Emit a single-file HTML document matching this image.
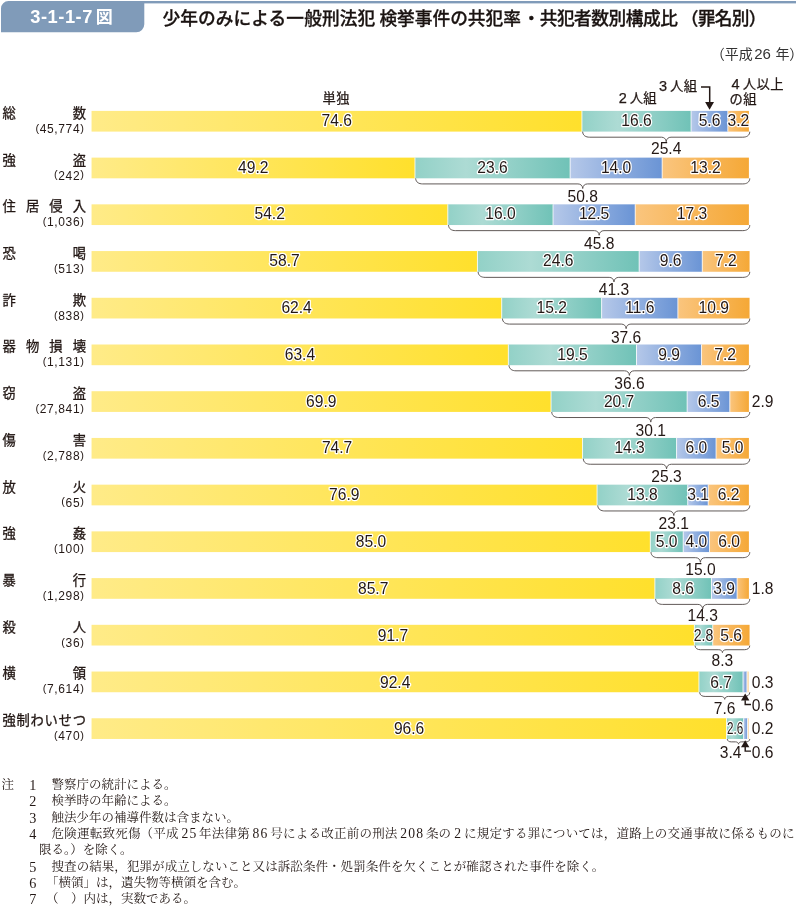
<!DOCTYPE html>
<html lang="ja"><head><meta charset="utf-8"><title>3-1-1-7図</title>
<style>
html,body{margin:0;padding:0;background:#fff;}
#page{position:relative;width:796px;height:907px;overflow:hidden;background:#fff;}
svg{position:absolute;left:0;top:0;}
svg text{font-family:"Liberation Sans", "Noto Sans CJK JP", sans-serif;fill:#231815;}
.num{font-size:15.6px;text-anchor:middle;}
.halo{stroke:#fff;stroke-width:2.5px;stroke-linejoin:round;paint-order:stroke fill;}
.lab{font-size:13.3px;stroke:#231815;stroke-width:0.3px;}
.pr{font-size:11px;}
.leg{font-size:13.3px;letter-spacing:0.4px;stroke:#231815;stroke-width:0.25px;}
.cnt{font-size:12px;text-anchor:end;letter-spacing:0.62px;}
.fn{position:absolute;white-space:nowrap;font-family:"Liberation Serif", "Noto Serif CJK JP", "Noto Serif CJK SC", serif;font-size:12.5px;line-height:16px;color:#231815;}
.fn .d{font-size:13.6px;margin:0 1.7px 0 2.6px;line-height:1px;letter-spacing:1.2px;}
.fn .w{font-size:13.6px;display:inline-block;width:12.7px;text-align:center;line-height:1px;}
#fn3{letter-spacing:0.23px;}
#fn5{letter-spacing:0.07px;}
</style></head><body><div id="page">
<svg width="796" height="907" viewBox="0 0 796 907">
<defs>
<linearGradient id="gy" x1="0" x2="1" y1="0" y2="0"><stop offset="0" stop-color="#FFEB88"/><stop offset="1" stop-color="#FFE02C"/></linearGradient>
<linearGradient id="gt" x1="0" x2="1" y1="0" y2="0"><stop offset="0" stop-color="#92D1C7"/><stop offset="0.33" stop-color="#ADDBD4"/><stop offset="1" stop-color="#70C2B7"/></linearGradient>
<linearGradient id="gb" x1="0" x2="1" y1="0" y2="0"><stop offset="0" stop-color="#B5C8E9"/><stop offset="1" stop-color="#6A94D5"/></linearGradient>
<linearGradient id="go" x1="0" x2="1" y1="0" y2="0"><stop offset="0" stop-color="#FAC57E"/><stop offset="1" stop-color="#F5A836"/></linearGradient>
</defs>
<rect x="8" y="1" width="788" height="2.4" fill="#809bb9"/>
<path d="M1 32.3V8.5A7.5 7.5 0 0 1 8.5 1H144.3V24.3A8 8 0 0 1 136.3 32.3Z" fill="#809bb9"/>
<text x="30.2" y="23.4" style="font-size:18.3px;font-weight:bold;fill:#fff;letter-spacing:0.55px">3-1-1-7</text>
<text x="95.8" y="23.2" style="font-size:17px;font-weight:bold;fill:#fff">図</text>
<text x="161.8" y="24.8" style="font-size:17.7px;font-weight:500;fill:#1a1311;stroke:#1a1311;stroke-width:0.3px"><tspan x="162.4" style="letter-spacing:0.1px">少年のみによる一般刑法犯</tspan> <tspan x="379.4">検挙事件の共犯率</tspan><tspan x="522.5">・</tspan><tspan x="539.7" style="letter-spacing:-0.47px">共犯者数別構成比</tspan><tspan x="680.8" style="letter-spacing:-0.7px">（罪名別）</tspan></text>
<text x="710.7" y="58.6" style="font-size:14px;fill:#333">（平成<tspan dx="1.5" style="font-size:15px">26</tspan><tspan dx="4.5">年）</tspan></text>
<text class="leg" x="322.6" y="103.1">単独</text>
<text class="leg" x="618.7" y="103.2"><tspan style="font-size:14.5px">2</tspan><tspan dx="2.5">人組</tspan></text>
<text class="leg" x="659.1" y="91.1"><tspan style="font-size:14.5px">3</tspan><tspan dx="2.5">人組</tspan></text>
<text class="leg" x="731.5" y="89.4"><tspan style="font-size:14.5px">4</tspan><tspan dx="2.9">人以上</tspan></text>
<text class="leg" x="729.6" y="104">の組</text>
<path d="M701 86.9H709.7V102.5" fill="none" stroke="#231815" stroke-width="1.5"/>
<path d="M705.1 102.1H714L709.55 109.8Z" fill="#231815"/>
<text class="lab" x="2.5 72.7" y="117.8">総数</text>
<text class="cnt" x="84.5" y="132.8"><tspan class="pr" dy="-1.2">(</tspan><tspan dy="1.2">45,774</tspan><tspan class="pr" dy="-1.2">)</tspan></text>
<rect x="91.55" y="110.90" width="490.38" height="20.70" fill="url(#gy)"/>
<rect x="581.93" y="110.90" width="109.12" height="20.70" fill="url(#gt)"/>
<rect x="691.05" y="110.90" width="36.81" height="20.70" fill="url(#gb)"/>
<rect x="727.86" y="110.90" width="21.04" height="20.70" fill="url(#go)"/>
<rect x="581.48" y="110.90" width="0.9" height="20.70" fill="#fff" fill-opacity="0.85"/>
<rect x="690.60" y="110.90" width="0.9" height="20.70" fill="#fff" fill-opacity="0.85"/>
<rect x="727.41" y="110.90" width="0.9" height="20.70" fill="#fff" fill-opacity="0.85"/>
<path d="M582.63 131.70C582.83 135.55 585.78 137.20 589.63 137.20H661.42C664.06 137.20 666.02 138.81 666.22 141.80C666.42 138.81 668.38 137.20 671.02 137.20H742.80C746.65 137.20 749.60 135.55 749.80 131.70" fill="none" stroke="#58514f" stroke-width="0.95"/>
<text class="num halo" x="336.7" y="125.7">74.6</text>
<text class="num halo" x="636.5" y="125.7">16.6</text>
<text class="num halo" x="709.5" y="125.7">5.6</text>
<text class="num halo" x="738.4" y="125.7">3.2</text>
<text class="num" x="666.2" y="153.9">25.4</text>
<text class="lab" x="2.5 72.7" y="164.5">強盗</text>
<text class="cnt" x="84.5" y="179.5"><tspan class="pr" dy="-1.2">(</tspan><tspan dy="1.2">242</tspan><tspan class="pr" dy="-1.2">)</tspan></text>
<rect x="91.55" y="157.62" width="323.42" height="20.70" fill="url(#gy)"/>
<rect x="414.97" y="157.62" width="155.13" height="20.70" fill="url(#gt)"/>
<rect x="570.10" y="157.62" width="92.03" height="20.70" fill="url(#gb)"/>
<rect x="662.13" y="157.62" width="86.77" height="20.70" fill="url(#go)"/>
<rect x="414.52" y="157.62" width="0.9" height="20.70" fill="#fff" fill-opacity="0.85"/>
<rect x="569.65" y="157.62" width="0.9" height="20.70" fill="#fff" fill-opacity="0.85"/>
<rect x="661.68" y="157.62" width="0.9" height="20.70" fill="#fff" fill-opacity="0.85"/>
<path d="M415.67 178.42C415.87 182.27 418.82 183.92 422.67 183.92H577.93C580.57 183.92 582.53 185.53 582.73 188.52C582.93 185.53 584.89 183.92 587.53 183.92H742.80C746.65 183.92 749.60 182.27 749.80 178.42" fill="none" stroke="#58514f" stroke-width="0.95"/>
<text class="num halo" x="253.3" y="172.5">49.2</text>
<text class="num halo" x="492.5" y="172.5">23.6</text>
<text class="num halo" x="616.1" y="172.5">14.0</text>
<text class="num halo" x="705.5" y="172.5">13.2</text>
<text class="num" x="582.7" y="201.6">50.8</text>
<text class="lab" x="2.5 25.9 49.3 72.7" y="211.2">住居侵入</text>
<text class="cnt" x="84.5" y="226.2"><tspan class="pr" dy="-1.2">(</tspan><tspan dy="1.2">1,036</tspan><tspan class="pr" dy="-1.2">)</tspan></text>
<rect x="91.55" y="204.34" width="356.28" height="20.70" fill="url(#gy)"/>
<rect x="447.83" y="204.34" width="105.18" height="20.70" fill="url(#gt)"/>
<rect x="553.01" y="204.34" width="82.17" height="20.70" fill="url(#gb)"/>
<rect x="635.18" y="204.34" width="113.72" height="20.70" fill="url(#go)"/>
<rect x="447.38" y="204.34" width="0.9" height="20.70" fill="#fff" fill-opacity="0.85"/>
<rect x="552.56" y="204.34" width="0.9" height="20.70" fill="#fff" fill-opacity="0.85"/>
<rect x="634.73" y="204.34" width="0.9" height="20.70" fill="#fff" fill-opacity="0.85"/>
<path d="M448.53 225.14C448.73 228.99 451.68 230.64 455.53 230.64H594.37C597.01 230.64 598.97 232.25 599.17 235.24C599.37 232.25 601.33 230.64 603.97 230.64H742.80C746.65 230.64 749.60 228.99 749.80 225.14" fill="none" stroke="#58514f" stroke-width="0.95"/>
<text class="num halo" x="269.7" y="219.3">54.2</text>
<text class="num halo" x="500.4" y="219.3">16.0</text>
<text class="num halo" x="594.1" y="219.3">12.5</text>
<text class="num halo" x="692.0" y="219.3">17.3</text>
<text class="num" x="599.2" y="249.1">45.8</text>
<text class="lab" x="2.5 72.7" y="258.0">恐喝</text>
<text class="cnt" x="84.5" y="273.0"><tspan class="pr" dy="-1.2">(</tspan><tspan dy="1.2">513</tspan><tspan class="pr" dy="-1.2">)</tspan></text>
<rect x="91.55" y="251.06" width="385.86" height="20.70" fill="url(#gy)"/>
<rect x="477.41" y="251.06" width="161.71" height="20.70" fill="url(#gt)"/>
<rect x="639.12" y="251.06" width="63.11" height="20.70" fill="url(#gb)"/>
<rect x="702.23" y="251.06" width="47.33" height="20.70" fill="url(#go)"/>
<rect x="476.96" y="251.06" width="0.9" height="20.70" fill="#fff" fill-opacity="0.85"/>
<rect x="638.67" y="251.06" width="0.9" height="20.70" fill="#fff" fill-opacity="0.85"/>
<rect x="701.78" y="251.06" width="0.9" height="20.70" fill="#fff" fill-opacity="0.85"/>
<path d="M478.11 271.86C478.31 275.71 481.26 277.36 485.11 277.36H609.16C611.80 277.36 613.76 278.97 613.96 281.96C614.16 278.97 616.12 277.36 618.76 277.36H742.80C746.65 277.36 749.60 275.71 749.80 271.86" fill="none" stroke="#58514f" stroke-width="0.95"/>
<text class="num halo" x="284.5" y="266.2">58.7</text>
<text class="num halo" x="558.3" y="266.2">24.6</text>
<text class="num halo" x="670.7" y="266.2">9.6</text>
<text class="num halo" x="725.9" y="266.2">7.2</text>
<text class="num" x="614.0" y="294.9">41.3</text>
<text class="lab" x="2.5 72.7" y="304.7">詐欺</text>
<text class="cnt" x="84.5" y="319.7"><tspan class="pr" dy="-1.2">(</tspan><tspan dy="1.2">838</tspan><tspan class="pr" dy="-1.2">)</tspan></text>
<rect x="91.55" y="297.78" width="410.19" height="20.70" fill="url(#gy)"/>
<rect x="501.74" y="297.78" width="99.92" height="20.70" fill="url(#gt)"/>
<rect x="601.65" y="297.78" width="76.25" height="20.70" fill="url(#gb)"/>
<rect x="677.91" y="297.78" width="71.65" height="20.70" fill="url(#go)"/>
<rect x="501.29" y="297.78" width="0.9" height="20.70" fill="#fff" fill-opacity="0.85"/>
<rect x="601.20" y="297.78" width="0.9" height="20.70" fill="#fff" fill-opacity="0.85"/>
<rect x="677.46" y="297.78" width="0.9" height="20.70" fill="#fff" fill-opacity="0.85"/>
<path d="M502.44 318.58C502.64 322.43 505.59 324.08 509.44 324.08H621.32C623.96 324.08 625.92 325.69 626.12 328.68C626.32 325.69 628.28 324.08 630.92 324.08H742.80C746.65 324.08 749.60 322.43 749.80 318.58" fill="none" stroke="#58514f" stroke-width="0.95"/>
<text class="num halo" x="296.6" y="313.0">62.4</text>
<text class="num halo" x="551.7" y="313.0">15.2</text>
<text class="num halo" x="639.8" y="313.0">11.6</text>
<text class="num halo" x="713.7" y="313.0">10.9</text>
<text class="num" x="626.1" y="342.6">37.6</text>
<text class="lab" x="2.5 25.9 49.3 72.7" y="351.4">器物損壊</text>
<text class="cnt" x="84.5" y="366.4"><tspan class="pr" dy="-1.2">(</tspan><tspan dy="1.2">1,131</tspan><tspan class="pr" dy="-1.2">)</tspan></text>
<rect x="91.55" y="344.50" width="416.76" height="20.70" fill="url(#gy)"/>
<rect x="508.31" y="344.50" width="128.18" height="20.70" fill="url(#gt)"/>
<rect x="636.49" y="344.50" width="65.08" height="20.70" fill="url(#gb)"/>
<rect x="701.57" y="344.50" width="47.33" height="20.70" fill="url(#go)"/>
<rect x="507.86" y="344.50" width="0.9" height="20.70" fill="#fff" fill-opacity="0.85"/>
<rect x="636.04" y="344.50" width="0.9" height="20.70" fill="#fff" fill-opacity="0.85"/>
<rect x="701.12" y="344.50" width="0.9" height="20.70" fill="#fff" fill-opacity="0.85"/>
<path d="M509.01 365.30C509.21 369.15 512.16 370.80 516.01 370.80H624.60C627.24 370.80 629.20 372.41 629.40 375.40C629.60 372.41 631.56 370.80 634.20 370.80H742.80C746.65 370.80 749.60 369.15 749.80 365.30" fill="none" stroke="#58514f" stroke-width="0.95"/>
<text class="num halo" x="299.9" y="359.8">63.4</text>
<text class="num halo" x="572.4" y="359.8">19.5</text>
<text class="num halo" x="669.0" y="359.8">9.9</text>
<text class="num halo" x="725.2" y="359.8">7.2</text>
<text class="num" x="629.4" y="388.9">36.6</text>
<text class="lab" x="2.5 72.7" y="398.1">窃盗</text>
<text class="cnt" x="84.5" y="413.1"><tspan class="pr" dy="-1.2">(</tspan><tspan dy="1.2">27,841</tspan><tspan class="pr" dy="-1.2">)</tspan></text>
<rect x="91.55" y="391.22" width="459.49" height="20.70" fill="url(#gy)"/>
<rect x="551.04" y="391.22" width="136.07" height="20.70" fill="url(#gt)"/>
<rect x="687.11" y="391.22" width="42.73" height="20.70" fill="url(#gb)"/>
<rect x="729.84" y="391.22" width="19.06" height="20.70" fill="url(#go)"/>
<rect x="550.59" y="391.22" width="0.9" height="20.70" fill="#fff" fill-opacity="0.85"/>
<rect x="686.66" y="391.22" width="0.9" height="20.70" fill="#fff" fill-opacity="0.85"/>
<rect x="729.39" y="391.22" width="0.9" height="20.70" fill="#fff" fill-opacity="0.85"/>
<path d="M551.74 412.02C551.94 415.87 554.89 417.52 558.74 417.52H645.97C648.61 417.52 650.57 419.13 650.77 422.12C650.97 419.13 652.93 417.52 655.57 417.52H742.80C746.65 417.52 749.60 415.87 749.80 412.02" fill="none" stroke="#58514f" stroke-width="0.95"/>
<text class="num halo" x="321.3" y="406.6">69.9</text>
<text class="num halo" x="619.1" y="406.6">20.7</text>
<text class="num halo" x="708.5" y="406.6">6.5</text>
<text class="num" x="650.8" y="435.9">30.1</text>
<text class="num" x="762.7" y="406.6">2.9</text>
<text class="lab" x="2.5 72.7" y="444.8">傷害</text>
<text class="cnt" x="84.5" y="459.8"><tspan class="pr" dy="-1.2">(</tspan><tspan dy="1.2">2,788</tspan><tspan class="pr" dy="-1.2">)</tspan></text>
<rect x="91.55" y="437.94" width="491.04" height="20.70" fill="url(#gy)"/>
<rect x="582.59" y="437.94" width="94.00" height="20.70" fill="url(#gt)"/>
<rect x="676.59" y="437.94" width="39.44" height="20.70" fill="url(#gb)"/>
<rect x="716.03" y="437.94" width="32.87" height="20.70" fill="url(#go)"/>
<rect x="582.14" y="437.94" width="0.9" height="20.70" fill="#fff" fill-opacity="0.85"/>
<rect x="676.14" y="437.94" width="0.9" height="20.70" fill="#fff" fill-opacity="0.85"/>
<rect x="715.58" y="437.94" width="0.9" height="20.70" fill="#fff" fill-opacity="0.85"/>
<path d="M583.29 458.74C583.49 462.59 586.44 464.24 590.29 464.24H661.75C664.39 464.24 666.35 465.85 666.55 468.84C666.75 465.85 668.71 464.24 671.35 464.24H742.80C746.65 464.24 749.60 462.59 749.80 458.74" fill="none" stroke="#58514f" stroke-width="0.95"/>
<text class="num halo" x="337.1" y="453.4">74.7</text>
<text class="num halo" x="629.6" y="453.4">14.3</text>
<text class="num halo" x="696.3" y="453.4">6.0</text>
<text class="num halo" x="732.5" y="453.4">5.0</text>
<text class="num" x="666.5" y="482.4">25.3</text>
<text class="lab" x="2.5 72.7" y="491.6">放火</text>
<text class="cnt" x="84.5" y="506.6"><tspan class="pr" dy="-1.2">(</tspan><tspan dy="1.2">65</tspan><tspan class="pr" dy="-1.2">)</tspan></text>
<rect x="91.55" y="484.66" width="505.50" height="20.70" fill="url(#gy)"/>
<rect x="597.05" y="484.66" width="90.71" height="20.70" fill="url(#gt)"/>
<rect x="687.77" y="484.66" width="20.38" height="20.70" fill="url(#gb)"/>
<rect x="708.14" y="484.66" width="40.76" height="20.70" fill="url(#go)"/>
<rect x="596.60" y="484.66" width="0.9" height="20.70" fill="#fff" fill-opacity="0.85"/>
<rect x="687.32" y="484.66" width="0.9" height="20.70" fill="#fff" fill-opacity="0.85"/>
<rect x="707.69" y="484.66" width="0.9" height="20.70" fill="#fff" fill-opacity="0.85"/>
<path d="M597.75 505.46C597.95 509.31 600.90 510.96 604.75 510.96H668.98C671.62 510.96 673.58 512.57 673.78 515.56C673.98 512.57 675.94 510.96 678.58 510.96H742.80C746.65 510.96 749.60 509.31 749.80 505.46" fill="none" stroke="#58514f" stroke-width="0.95"/>
<text class="num halo" x="344.3" y="500.3">76.9</text>
<text class="num halo" x="642.4" y="500.3">13.8</text>
<text class="num halo" x="698.0" y="500.3">3.1</text>
<text class="num halo" x="728.5" y="500.3">6.2</text>
<text class="num" x="673.8" y="528.6">23.1</text>
<text class="lab" x="2.5 72.7" y="538.3">強姦</text>
<text class="cnt" x="84.5" y="553.3"><tspan class="pr" dy="-1.2">(</tspan><tspan dy="1.2">100</tspan><tspan class="pr" dy="-1.2">)</tspan></text>
<rect x="91.55" y="531.38" width="558.75" height="20.70" fill="url(#gy)"/>
<rect x="650.30" y="531.38" width="32.87" height="20.70" fill="url(#gt)"/>
<rect x="683.16" y="531.38" width="26.29" height="20.70" fill="url(#gb)"/>
<rect x="709.46" y="531.38" width="39.44" height="20.70" fill="url(#go)"/>
<rect x="649.85" y="531.38" width="0.9" height="20.70" fill="#fff" fill-opacity="0.85"/>
<rect x="682.71" y="531.38" width="0.9" height="20.70" fill="#fff" fill-opacity="0.85"/>
<rect x="709.01" y="531.38" width="0.9" height="20.70" fill="#fff" fill-opacity="0.85"/>
<path d="M651.00 552.18C651.20 556.03 654.15 557.68 658.00 557.68H695.60C698.24 557.68 700.20 559.29 700.40 562.28C700.60 559.29 702.56 557.68 705.20 557.68H742.80C746.65 557.68 749.60 556.03 749.80 552.18" fill="none" stroke="#58514f" stroke-width="0.95"/>
<text class="num halo" x="370.9" y="547.1">85.0</text>
<text class="num halo" x="666.7" y="547.1">5.0</text>
<text class="num halo" x="696.3" y="547.1">4.0</text>
<text class="num halo" x="729.2" y="547.1">6.0</text>
<text class="num" x="700.4" y="575.0">15.0</text>
<text class="lab" x="2.5 72.7" y="585.0">暴行</text>
<text class="cnt" x="84.5" y="600.0"><tspan class="pr" dy="-1.2">(</tspan><tspan dy="1.2">1,298</tspan><tspan class="pr" dy="-1.2">)</tspan></text>
<rect x="91.55" y="578.10" width="563.35" height="20.70" fill="url(#gy)"/>
<rect x="654.90" y="578.10" width="56.53" height="20.70" fill="url(#gt)"/>
<rect x="711.43" y="578.10" width="25.64" height="20.70" fill="url(#gb)"/>
<rect x="737.07" y="578.10" width="11.83" height="20.70" fill="url(#go)"/>
<rect x="654.45" y="578.10" width="0.9" height="20.70" fill="#fff" fill-opacity="0.85"/>
<rect x="710.98" y="578.10" width="0.9" height="20.70" fill="#fff" fill-opacity="0.85"/>
<rect x="736.62" y="578.10" width="0.9" height="20.70" fill="#fff" fill-opacity="0.85"/>
<path d="M655.60 598.90C655.80 602.75 658.75 604.40 662.60 604.40H697.90C700.54 604.40 702.50 606.01 702.70 609.00C702.90 606.01 704.86 604.40 707.50 604.40H742.80C746.65 604.40 749.60 602.75 749.80 598.90" fill="none" stroke="#58514f" stroke-width="0.95"/>
<text class="num halo" x="373.2" y="593.9">85.7</text>
<text class="num halo" x="683.2" y="593.9">8.6</text>
<text class="num halo" x="724.2" y="593.9">3.9</text>
<text class="num" x="702.7" y="621.1">14.3</text>
<text class="num" x="762.7" y="593.9">1.8</text>
<text class="lab" x="2.5 72.7" y="631.7">殺人</text>
<text class="cnt" x="84.5" y="646.7"><tspan class="pr" dy="-1.2">(</tspan><tspan dy="1.2">36</tspan><tspan class="pr" dy="-1.2">)</tspan></text>
<rect x="91.55" y="624.82" width="602.79" height="20.70" fill="url(#gy)"/>
<rect x="694.34" y="624.82" width="18.41" height="20.70" fill="url(#gt)"/>
<rect x="712.75" y="624.82" width="36.81" height="20.70" fill="url(#go)"/>
<rect x="693.89" y="624.82" width="0.9" height="20.70" fill="#fff" fill-opacity="0.85"/>
<rect x="712.30" y="624.82" width="0.9" height="20.70" fill="#fff" fill-opacity="0.85"/>
<path d="M695.04 645.62C695.24 648.49 697.51 649.72 700.54 649.72H718.82C720.80 649.72 722.22 650.74 722.42 652.62C722.62 650.74 724.04 649.72 726.02 649.72H744.30C747.32 649.72 749.60 648.49 749.80 645.62" fill="none" stroke="#58514f" stroke-width="0.95"/>
<text class="num halo" x="392.9" y="640.7">91.7</text>
<text class="num halo" x="703.5" y="640.7" textLength="19.6" lengthAdjust="spacingAndGlyphs">2.8</text>
<text class="num halo" x="731.2" y="640.7">5.6</text>
<text class="num" x="722.4" y="665.8">8.3</text>
<text class="lab" x="2.5 72.7" y="678.4">横領</text>
<text class="cnt" x="84.5" y="693.4"><tspan class="pr" dy="-1.2">(</tspan><tspan dy="1.2">7,614</tspan><tspan class="pr" dy="-1.2">)</tspan></text>
<rect x="91.55" y="671.54" width="607.39" height="20.70" fill="url(#gy)"/>
<rect x="698.94" y="671.54" width="44.04" height="20.70" fill="url(#gt)"/>
<rect x="742.98" y="671.54" width="3.94" height="20.70" fill="url(#gb)"/>
<rect x="746.93" y="671.54" width="1.97" height="20.70" fill="#FCDDAE"/>
<rect x="698.49" y="671.54" width="0.9" height="20.70" fill="#fff" fill-opacity="0.85"/>
<rect x="742.53" y="671.54" width="0.9" height="20.70" fill="#fff" fill-opacity="0.85"/>
<rect x="746.48" y="671.54" width="0.9" height="20.70" fill="#fff" fill-opacity="0.85"/>
<path d="M699.64 692.34C699.84 695.21 702.12 696.44 705.14 696.44H721.12C723.10 696.44 724.52 697.46 724.72 699.34C724.92 697.46 726.34 696.44 728.32 696.44H744.30C747.32 696.44 749.60 695.21 749.80 692.34" fill="none" stroke="#58514f" stroke-width="0.95"/>
<text class="num halo" x="395.2" y="687.5">92.4</text>
<text class="num halo" x="721.0" y="687.5">6.7</text>
<text class="num" x="724.7" y="713.5">7.6</text>
<text class="num" x="762.6" y="687.5">0.3</text>
<text class="num" x="762.6" y="711.0">0.6</text>
<path d="M745.20 700.24V704.44H751.00" fill="none" stroke="#231815" stroke-width="1.4"/>
<path d="M745.20 693.54L749.40 700.44H741.00Z" fill="#231815"/>
<text class="lab" x="2.5 16.5 30.5 44.6 58.6 72.7" y="725.2">強制わいせつ</text>
<text class="cnt" x="84.5" y="740.2"><tspan class="pr" dy="-1.2">(</tspan><tspan dy="1.2">470</tspan><tspan class="pr" dy="-1.2">)</tspan></text>
<rect x="91.55" y="718.26" width="635.00" height="20.70" fill="url(#gy)"/>
<rect x="726.55" y="718.26" width="17.09" height="20.70" fill="url(#gt)"/>
<rect x="743.64" y="718.26" width="3.94" height="20.70" fill="url(#gb)"/>
<rect x="747.59" y="718.26" width="1.31" height="20.70" fill="#FCDDAE"/>
<rect x="726.10" y="718.26" width="0.9" height="20.70" fill="#fff" fill-opacity="0.85"/>
<rect x="743.19" y="718.26" width="0.9" height="20.70" fill="#fff" fill-opacity="0.85"/>
<rect x="747.14" y="718.26" width="0.9" height="20.70" fill="#fff" fill-opacity="0.85"/>
<path d="M727.25 739.06C727.45 741.02 729.05 741.86 731.25 741.86H735.53C737.18 741.86 738.33 742.66 738.53 744.16C738.73 742.66 739.88 741.86 741.53 741.86H745.80C748.00 741.86 749.60 741.02 749.80 739.06" fill="none" stroke="#58514f" stroke-width="0.95"/>
<text class="num halo" x="409.1" y="734.4">96.6</text>
<text class="num halo" x="735.1" y="734.4" textLength="16.2" lengthAdjust="spacingAndGlyphs">2.6</text>
<text class="num" x="730.6" y="757.7">3.4</text>
<text class="num" x="762.6" y="734.4">0.2</text>
<text class="num" x="762.6" y="757.8">0.6</text>
<path d="M745.20 746.96V751.16H751.00" fill="none" stroke="#231815" stroke-width="1.4"/>
<path d="M745.20 740.26L749.40 747.16H741.00Z" fill="#231815"/>
</svg>
<div class="fn" style="left:1.5px;top:777.1px">注</div>
<div class="fn" style="left:26.6px;top:777.1px;width:12.5px;text-align:center;font-size:14.2px">1</div>
<div class="fn" id="fn0" style="left:51.5px;top:777.1px">警察庁の統計による。</div>
<div class="fn" style="left:26.6px;top:793.4px;width:12.5px;text-align:center;font-size:14.2px">2</div>
<div class="fn" id="fn1" style="left:51.5px;top:793.4px">検挙時の年齢による。</div>
<div class="fn" style="left:26.6px;top:809.7px;width:12.5px;text-align:center;font-size:14.2px">3</div>
<div class="fn" id="fn2" style="left:51.5px;top:809.7px">触法少年の補導件数は含まない。</div>
<div class="fn" style="left:26.6px;top:826.0px;width:12.5px;text-align:center;font-size:14.2px">4</div>
<div class="fn" id="fn3" style="left:51.5px;top:826.0px">危険運転致死傷（平成<span class=d>25</span>年法律第<span class=d>86</span>号による改正前の刑法<span class=d>208</span>条の<span class=w>2</span>に規定する罪については，道路上の交通事故に係るものに</div>
<div class="fn" id="fn4" style="left:39px;top:842.3px">限る。）を除く。</div>
<div class="fn" style="left:26.6px;top:858.6px;width:12.5px;text-align:center;font-size:14.2px">5</div>
<div class="fn" id="fn5" style="left:51.5px;top:858.6px">捜査の結果，犯罪が成立しないこと又は訴訟条件・処罰条件を欠くことが確認された事件を除く。</div>
<div class="fn" style="left:26.6px;top:874.9px;width:12.5px;text-align:center;font-size:14.2px">6</div>
<div class="fn" id="fn6" style="left:46.0px;top:874.9px">「横領」は，遺失物等横領を含む。</div>
<div class="fn" style="left:26.6px;top:891.2px;width:12.5px;text-align:center;font-size:14.2px">7</div>
<div class="fn" id="fn7" style="left:46.0px;top:891.2px">（　）内は，実数である。</div>
</div></body></html>
